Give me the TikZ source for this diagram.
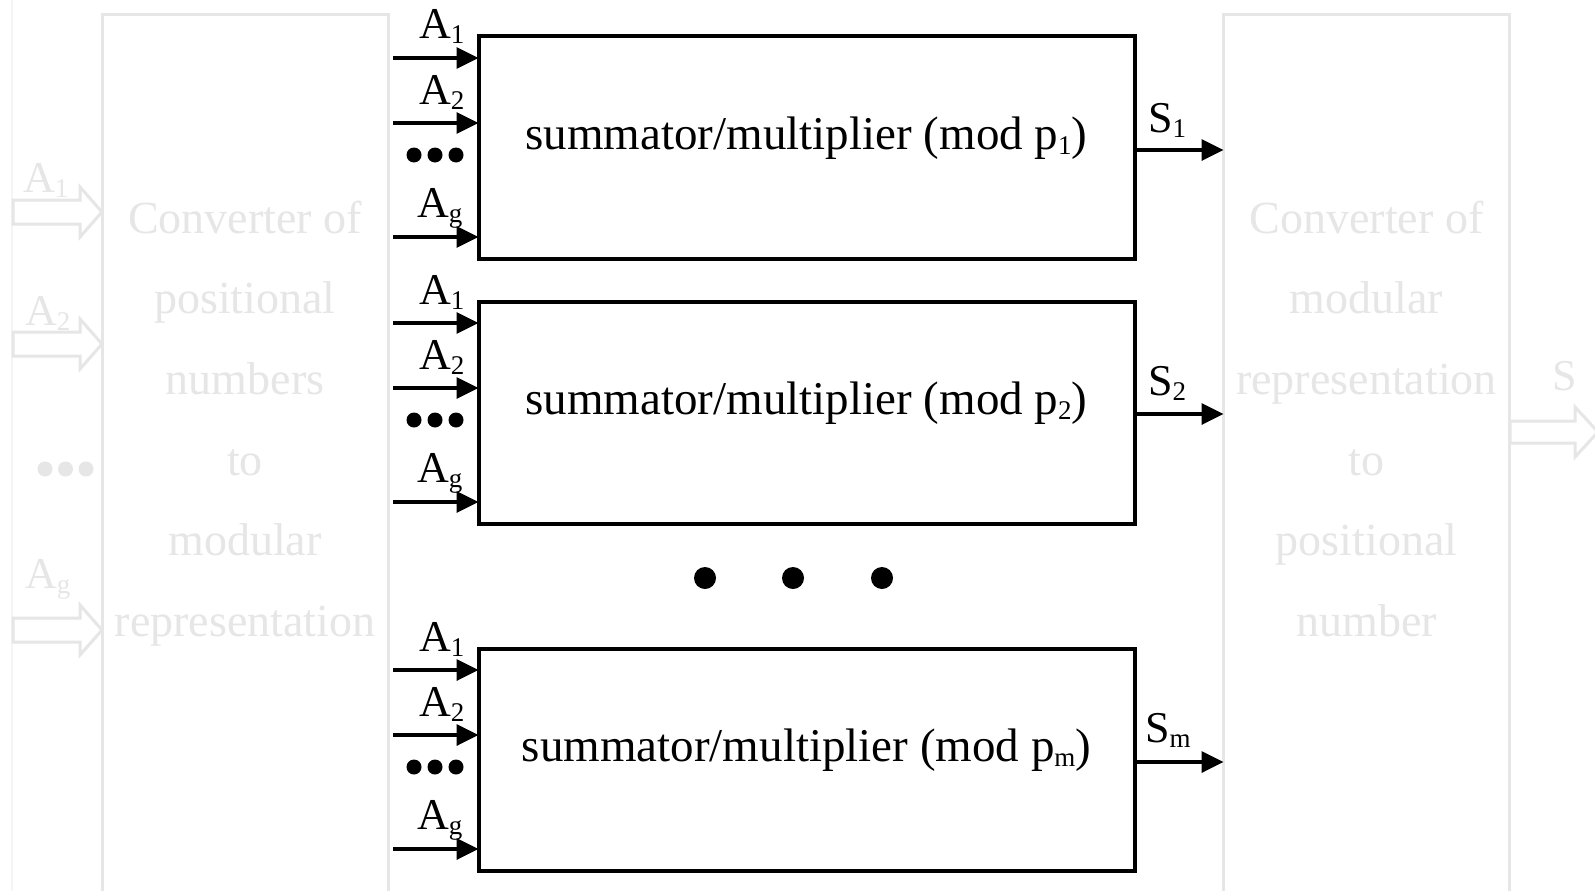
\documentclass[tikz,border=0pt]{standalone}
\usepackage{fontspec}
\setmainfont{Liberation Serif}
\usetikzlibrary{arrows.meta}
\definecolor{faint}{HTML}{E6E6E6}
\definecolor{fainter}{HTML}{F5F5F5}
\newcommand\lowsub[1]{\raisebox{-5pt}{\fontsize{27}{27}\selectfont #1}}
\begin{document}
\begin{tikzpicture}[x=1pt,y=-1pt,
  box/.style={draw=black,line width=4pt,minimum width=656pt,minimum height=222pt,inner sep=0pt,outer sep=0pt},
  mtext/.style={font=\fontsize{47}{51}\selectfont,inner sep=0pt},
  conv/.style={draw=faint,line width=3pt,minimum width=286pt,minimum height=900pt,inner sep=0pt,outer sep=0pt},
  ftext/.style={text=faint,font=\fontsize{46}{50}\selectfont,anchor=base,inner sep=0pt},
  flbl/.style={text=faint,font=\fontsize{44}{48}\selectfont,anchor=base west,inner sep=0pt},
  inarrow/.style={line width=3.5pt,-{Triangle[length=22pt,width=21pt]}},
  lbl/.style={font=\fontsize{44}{48}\selectfont,anchor=base west,inner sep=0pt},
  sdot/.style={circle,fill=black,inner sep=0pt,minimum size=15pt},
  fdot/.style={circle,fill=faint,inner sep=0pt,minimum size=15pt},
  bigdot/.style={circle,fill=black,inner sep=0pt,minimum size=22pt},
  hollow/.style={draw=faint,line width=3pt,fill=white,line join=miter}]
\useasboundingbox (0,0) rectangle (1595,891);
\clip (0,0) rectangle (1595,891);
\fill[white] (0,0) rectangle (1595,891);
\draw[fainter,line width=2pt] (12,0) -- (12,891);
% converters
\node[conv] (convL) at (245,465) {};
\node[conv] (convR) at (1366.5,465) {};
\foreach \t [count=\i] in {Converter of,positional,numbers,to,modular,representation}
  \node[ftext] (tl\i) at (245,{233+80.7*(\i-1)}) {\t};
\foreach \t [count=\i] in {Converter of,modular,representation,to,positional,number}
  \node[ftext] (tr\i) at (1366.5,{233+80.7*(\i-1)}) {\t};
% faint input arrows
\foreach \yy in {212,344,630}
  \draw[hollow,shift={(0,\yy)}] (13,-12) -- (80,-12) -- (80,-25) -- (102,0) -- (80,25) -- (80,12) -- (13,12) -- cycle;
\node[flbl] (fa1) at (23,192) {A\lowsub{1}};
\node[flbl] (fa2) at (25,325) {A\lowsub{2}};
\node[flbl] (fag) at (25,588) {A\lowsub{g}};
\node[fdot] (fd1) at (45,469) {};
\node[fdot] (fd2) at (65.5,469) {};
\node[fdot] (fd3) at (86,469) {};
% faint output arrow
\draw[hollow,shift={(0,432)}] (1510,-11) -- (1575,-11) -- (1575,-25) -- (1598,0) -- (1575,25) -- (1575,11) -- (1510,11) -- cycle;
\node[flbl] (fs) at (1552,390) {S};
% boxes
\node[box] (b1) at (806.5,147.5) {};
\node[box] (b2) at (806.5,412.5) {};
\node[box] (b3) at (806.5,759.5) {};
\node[mtext] (t1) at ([yshift=9pt]b1.center) {summator/multiplier (mod p\lowsub{1})};
\node[mtext] (t2) at ([yshift=9pt]b2.center) {summator/multiplier (mod p\lowsub{2})};
\node[mtext] (t3) at ([yshift=9pt]b3.center) {summator/multiplier (mod p\lowsub{m})};
% inputs
\foreach \k/\T in {1/35,2/300,3/647}{
  \coordinate (ia\k) at (393,{\T+23});
  \coordinate (ib\k) at (393,{\T+88});
  \coordinate (ig\k) at (393,{\T+202});
  \draw[inarrow] (ia\k) -- (ia\k -| b\k.west);
  \draw[inarrow] (ib\k) -- (ib\k -| b\k.west);
  \draw[inarrow] (ig\k) -- (ig\k -| b\k.west);
  \node[lbl] (la\k) at (419,{\T+4}) {A\lowsub{1}};
  \node[lbl] (lb\k) at (419,{\T+69}) {A\lowsub{2}};
  \node[lbl] (lg\k) at (417,{\T+182}) {A\lowsub{g}};
  \node[sdot] (da\k) at (414,{\T+120}) {};
  \node[sdot] (db\k) at (435,{\T+120}) {};
  \node[sdot] (dc\k) at (456,{\T+120}) {};
}
% outputs
\coordinate (o1) at (1136,150);
\coordinate (o2) at (1136,414);
\coordinate (o3) at (1136,762);
\draw[inarrow] (o1 -| b1.east) -- (o1 -| convR.west);
\draw[inarrow] (o2 -| b2.east) -- (o2 -| convR.west);
\draw[inarrow] (o3 -| b3.east) -- (o3 -| convR.west);
\node[lbl] (s1) at (1148,132) {S\lowsub{1}};
\node[lbl] (s2) at (1148,395) {S\lowsub{2}};
\node[lbl] (sm) at (1145,742) {S\lowsub{m}};
% big dots
\node[bigdot] (bd1) at (705,578) {};
\node[bigdot] (bd2) at (793,578) {};
\node[bigdot] (bd3) at (882,578) {};
\end{tikzpicture}
\end{document}
